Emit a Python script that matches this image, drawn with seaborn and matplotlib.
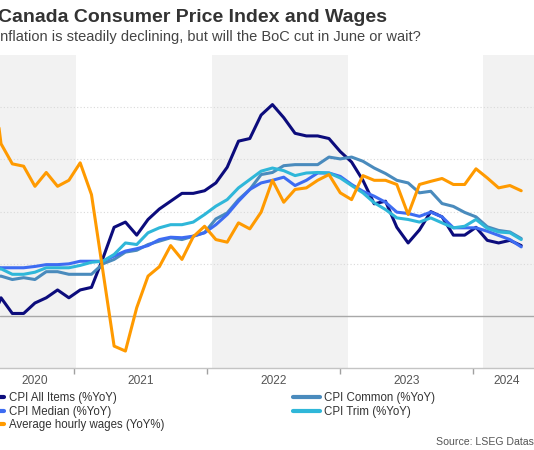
import numpy as np
import pandas as pd
import matplotlib.pyplot as plt
import seaborn as sns

# monthly data, May 2020 - Apr 2024 (% YoY)
months = pd.date_range("2020-05-01", "2024-04-01", freq="MS")

cpi_all = [-0.4, 0.7, 0.1, 0.1, 0.5, 0.7, 1.0, 0.7,
           1.0, 1.1, 2.2, 3.4, 3.6, 3.1, 3.7, 4.1, 4.4, 4.7, 4.7, 4.8,
           5.1, 5.7, 6.7, 6.8, 7.7, 8.1, 7.6, 7.0, 6.9, 6.9, 6.8, 6.3,
           5.9, 5.2, 4.3, 4.4, 3.4, 2.8, 3.3, 4.0, 3.8, 3.1, 3.1, 3.4,
           2.9, 2.8, 2.9, 2.7]
cpi_common = [1.5, 1.53, 1.4, 1.47, 1.4, 1.7, 1.7, 1.6,
              1.6, 1.6, 2.0, 2.17, 2.45, 2.52, 2.74, 2.87, 3.0, 2.93, 3.06, 3.2,
              3.72, 3.95, 4.46, 4.85, 5.42, 5.5, 5.76, 5.8, 5.8, 5.8, 6.09, 6.02,
              6.09, 5.93, 5.67, 5.46, 5.2, 5.1, 4.72, 4.78, 4.31, 4.2, 3.97, 3.8,
              3.42, 3.28, 3.22, 2.97]
cpi_median = [1.9, 1.85, 1.85, 1.85, 1.9, 1.97, 1.97, 2.0,
              2.1, 2.1, 2.1, 2.3, 2.49, 2.58, 2.7, 2.93, 3.02, 3.0, 3.06, 3.19,
              3.5, 3.89, 4.4, 4.85, 5.1, 5.2, 5.32, 5.0, 5.2, 5.48, 5.48, 5.35,
              5.04, 4.78, 4.59, 4.36, 3.98, 3.93, 3.82, 3.98, 3.8, 3.38, 3.38, 3.38,
              3.25, 3.09, 2.93, 2.65]
cpi_trim = [1.7, 1.81, 1.6, 1.6, 1.68, 1.85, 1.85, 1.85,
            1.94, 2.06, 2.1, 2.36, 2.8, 2.74, 3.19, 3.38, 3.5, 3.5, 3.6, 3.89,
            4.21, 4.46, 4.91, 5.23, 5.55, 5.67, 5.57, 5.38, 5.48, 5.5, 5.48, 5.29,
            5.0, 4.72, 4.34, 4.08, 3.76, 3.7, 3.6, 3.76, 3.57, 3.38, 3.44, 3.7,
            3.36, 3.22, 3.19, 2.93]
wages = [10.0, 6.6, 5.83, 5.74, 4.97, 5.5, 4.97, 5.2,
         5.87, 4.65, 1.75, -1.15, -1.34, 0.32, 1.53, 1.89, 2.7, 2.17, 3.04, 3.44,
         2.93, 2.83, 3.57, 3.34, 3.98, 5.2, 4.36, 4.85, 4.91, 5.2, 5.42, 4.72,
         4.46, 5.38, 5.2, 5.2, 5.04, 3.89, 5.04, 5.16, 5.27, 5.04, 5.04, 5.64,
         5.29, 4.91, 5.0, 4.8]

names = ["CPI All Items (%YoY)", "CPI Common (%YoY)", "CPI Median (%YoY)",
         "CPI Trim (%YoY)", "Average hourly wages (YoY%)"]
colors = ["#0c0c7c", "#4a8bbd", "#3d6cf2", "#2fb7d9", "#ff9a00"]
years = [2020, 2021, 2022, 2023, 2024]

x = np.arange(len(months))
df = pd.DataFrame({"x": x, names[0]: cpi_all, names[1]: cpi_common,
                   names[2]: cpi_median, names[3]: cpi_trim, names[4]: wages})
long = df.melt(id_vars="x", var_name="series", value_name="value")

sns.set_style("white")
plt.rcParams["font.family"] = ["Liberation Sans", "DejaVu Sans"]

fig = plt.figure(figsize=(5.34, 4.5), dpi=100)
ax = fig.add_axes([0, 0.1816, 1, 0.6962])

xmin, xmax = 0.91, 48.13
ax.set_xlim(xmin, xmax)
ax.set_ylim(-2, 10)

# alternating year shading
jan_idx = [i for i, m in enumerate(months) if m.month == 1]
bounds = [j - 0.35 for j in jan_idx]
for a, b in [(xmin - 1, bounds[0]), (bounds[1], bounds[2]), (bounds[3], xmax + 1)]:
    ax.axvspan(a, b, color="#f2f2f2", lw=0, zorder=0)

for g in [2, 4, 6, 8]:
    ax.axhline(g, color="#d9d9d9", lw=0.8, ls=(0, (1, 2)), zorder=1)
ax.axhline(0, color="#a8a8a8", lw=1, zorder=1)

sns.lineplot(data=long, x="x", y="value", hue="series", hue_order=names,
             palette=colors, linewidth=2.2, ax=ax)

handles, labels = ax.get_legend_handles_labels()
ax.get_legend().remove()
hmap = dict(zip(labels, handles))

# axes styling
for s in ["top", "right", "left"]:
    ax.spines[s].set_visible(False)
ax.spines["bottom"].set_color("#c4c4c4")
ax.spines["bottom"].set_linewidth(1)
ax.set_yticks([])
ax.set_xlabel("")
ax.set_ylabel("")

tick_pos = [7.455, 19.21, 30.97, 42.73]
label_pos = [4.0, 13.38, 25.09, 36.9, 45.74]
ax.set_xticks(tick_pos)
ax.set_xticklabels([])
ax.tick_params(axis="x", which="major", length=4, width=1, color="#a0a0a0", bottom=True)
ax.set_xticks(label_pos, minor=True)
ax.set_xticklabels([str(y) for y in years], minor=True)
ax.tick_params(axis="x", which="minor", length=0, pad=5, labelsize=8.6, labelcolor="#555555")

# titles
fig.text(-1.5 / 534, 1 - 21.7 / 450, "Canada Consumer Price Index and Wages",
         fontsize=14, fontweight="bold", color="#333333", va="baseline")
fig.text(-3.5 / 534, 1 - 41.5 / 450,
         "Inflation is steadily declining, but will the BoC cut in June or wait?",
         fontsize=10.5, color="#444444", va="baseline")

# legends
leg_kw = dict(loc="upper left", frameon=False, fontsize=8.3, handlelength=2.3,
              handletextpad=0.4, labelspacing=0.13, borderpad=0, borderaxespad=0,
              labelcolor="#333333")
col1 = [names[0], names[2], names[4]]
col2 = [names[1], names[3]]
leg1 = fig.legend([hmap[n] for n in col1], col1,
                  bbox_to_anchor=(-22.3 / 534, 1 - 392.5 / 450), **leg_kw)
leg2 = fig.legend([hmap[n] for n in col2], col2,
                  bbox_to_anchor=(293 / 534, 1 - 392.5 / 450), **leg_kw)
for leg in (leg1, leg2):
    for ln in leg.get_lines():
        ln.set_linewidth(3)

fig.text(436 / 534, 1 - 445 / 450, "Source: LSEG Datastream",
         fontsize=7.6, color="#555555", ha="left", va="baseline")

fig.savefig("out.png", dpi=100)
